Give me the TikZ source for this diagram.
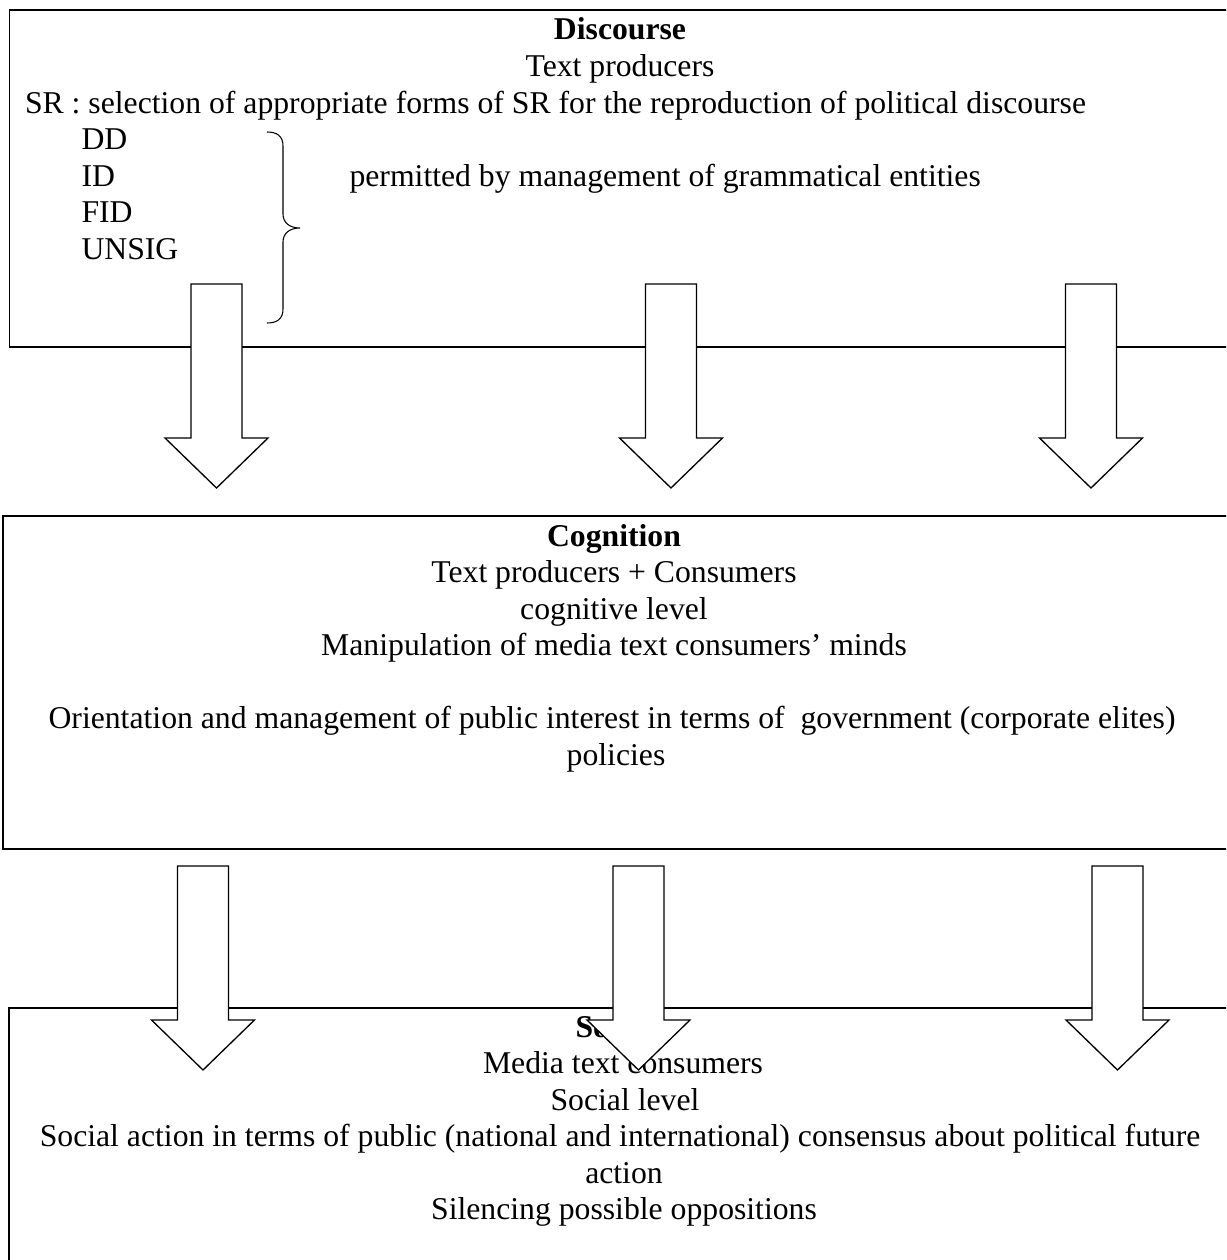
\documentclass[tikz,border=0pt]{standalone}
\usepackage{fontspec}
\setmainfont{Liberation Serif}
\begin{document}
\begin{tikzpicture}[x=0.3785pt,y=-0.3785pt,
  font=\fontsize{12}{13.8}\selectfont,
  boxline/.style={draw=black,line width=0.75pt},
  arrowline/.style={draw=black,fill=white,line width=0.5pt,line join=miter},
  braceline/.style={draw=black,line width=0.4pt},
  ctext/.style={anchor=base,inner sep=0pt},
  ltext/.style={anchor=base west,inner sep=0pt},
  pics/blockarrow/.style={code={
    \draw[arrowline] (-25.5,0) -- (25.5,0) -- (25.5,154) -- (51.5,154) -- (0,204)
      -- (-51.5,154) -- (-25.5,154) -- cycle;}}]
\useasboundingbox (0,0) rectangle (1226,1260);
\clip (0,0) rectangle (1226,1260);
\fill[white] (0,0) rectangle (1226,1260);

% boxes
\draw[boxline] (9.5,10) rectangle (1240,347);
\draw[boxline] (3,516) rectangle (1240,849);
\draw[boxline] (9.3,1007.5) rectangle (1240,1280);

% Discourse box text
\node[ctext] (dtitle) at (620,40) {\bfseries Discourse};
\node[ctext] (dprod) at (620,76.5) {Text producers};
\node[ltext] (dsr) at (24.5,113) {SR : selection of appropriate forms of SR for the reproduction of political discourse};
\node[ltext] (ddd) at (81,149.5) {DD};
\node[ltext] (did) at (81,186) {ID};
\node[ltext] (dfid) at (81,222.5) {FID};
\node[ltext] (dun) at (81,259) {UNSIG};
\node[ltext] (dperm) at (349,186) {permitted by management of grammatical entities};
\draw[braceline] (267,132) .. controls (277,132) and (283,136) .. (283,146)
  -- (283,214) .. controls (283,223) and (290,228) .. (300,228)
  .. controls (290,228) and (283,233) .. (283,242)
  -- (283,309) .. controls (283,319) and (277,323) .. (267,323);

% Cognition box text
\node[ctext] (ctitle) at (614,546) {\bfseries Cognition};
\node[ctext] (cprod) at (614,582.5) {Text producers + Consumers};
\node[ctext] (clev) at (614,619) {cognitive level};
\node[ctext] (cman) at (614,655.5) {Manipulation of media text consumers’ minds};
\node[ctext] (cori) at (612,728.5) {Orientation and management of public interest in terms of \ government (corporate elites)};
\node[ctext] (cpol) at (616,765) {policies};

% Society box text
\node[ctext] (stitle) at (624,1037.5) {\bfseries Society};
\node[ctext] (smed) at (623,1073) {Media text consumers};
\node[ctext] (slev) at (625,1110) {Social level};
\node[ctext] (sact) at (620,1146.5) {Social action in terms of public (national and international) consensus about political future};
\node[ctext] (sact2) at (624,1183) {action};
\node[ctext] (ssil) at (624,1219.5) {Silencing possible oppositions};

% block arrows
\coordinate (a1) at (216.5,284);
\coordinate (a2) at (671,284);
\coordinate (a3) at (1091,284);
\coordinate (b1) at (203,866);
\coordinate (b2) at (638.5,866);
\coordinate (b3) at (1117.5,866);
\pic at (a1) {blockarrow};
\pic at (a2) {blockarrow};
\pic at (a3) {blockarrow};
\pic at (b1) {blockarrow};
\pic at (b2) {blockarrow};
\pic at (b3) {blockarrow};
\end{tikzpicture}
\end{document}
